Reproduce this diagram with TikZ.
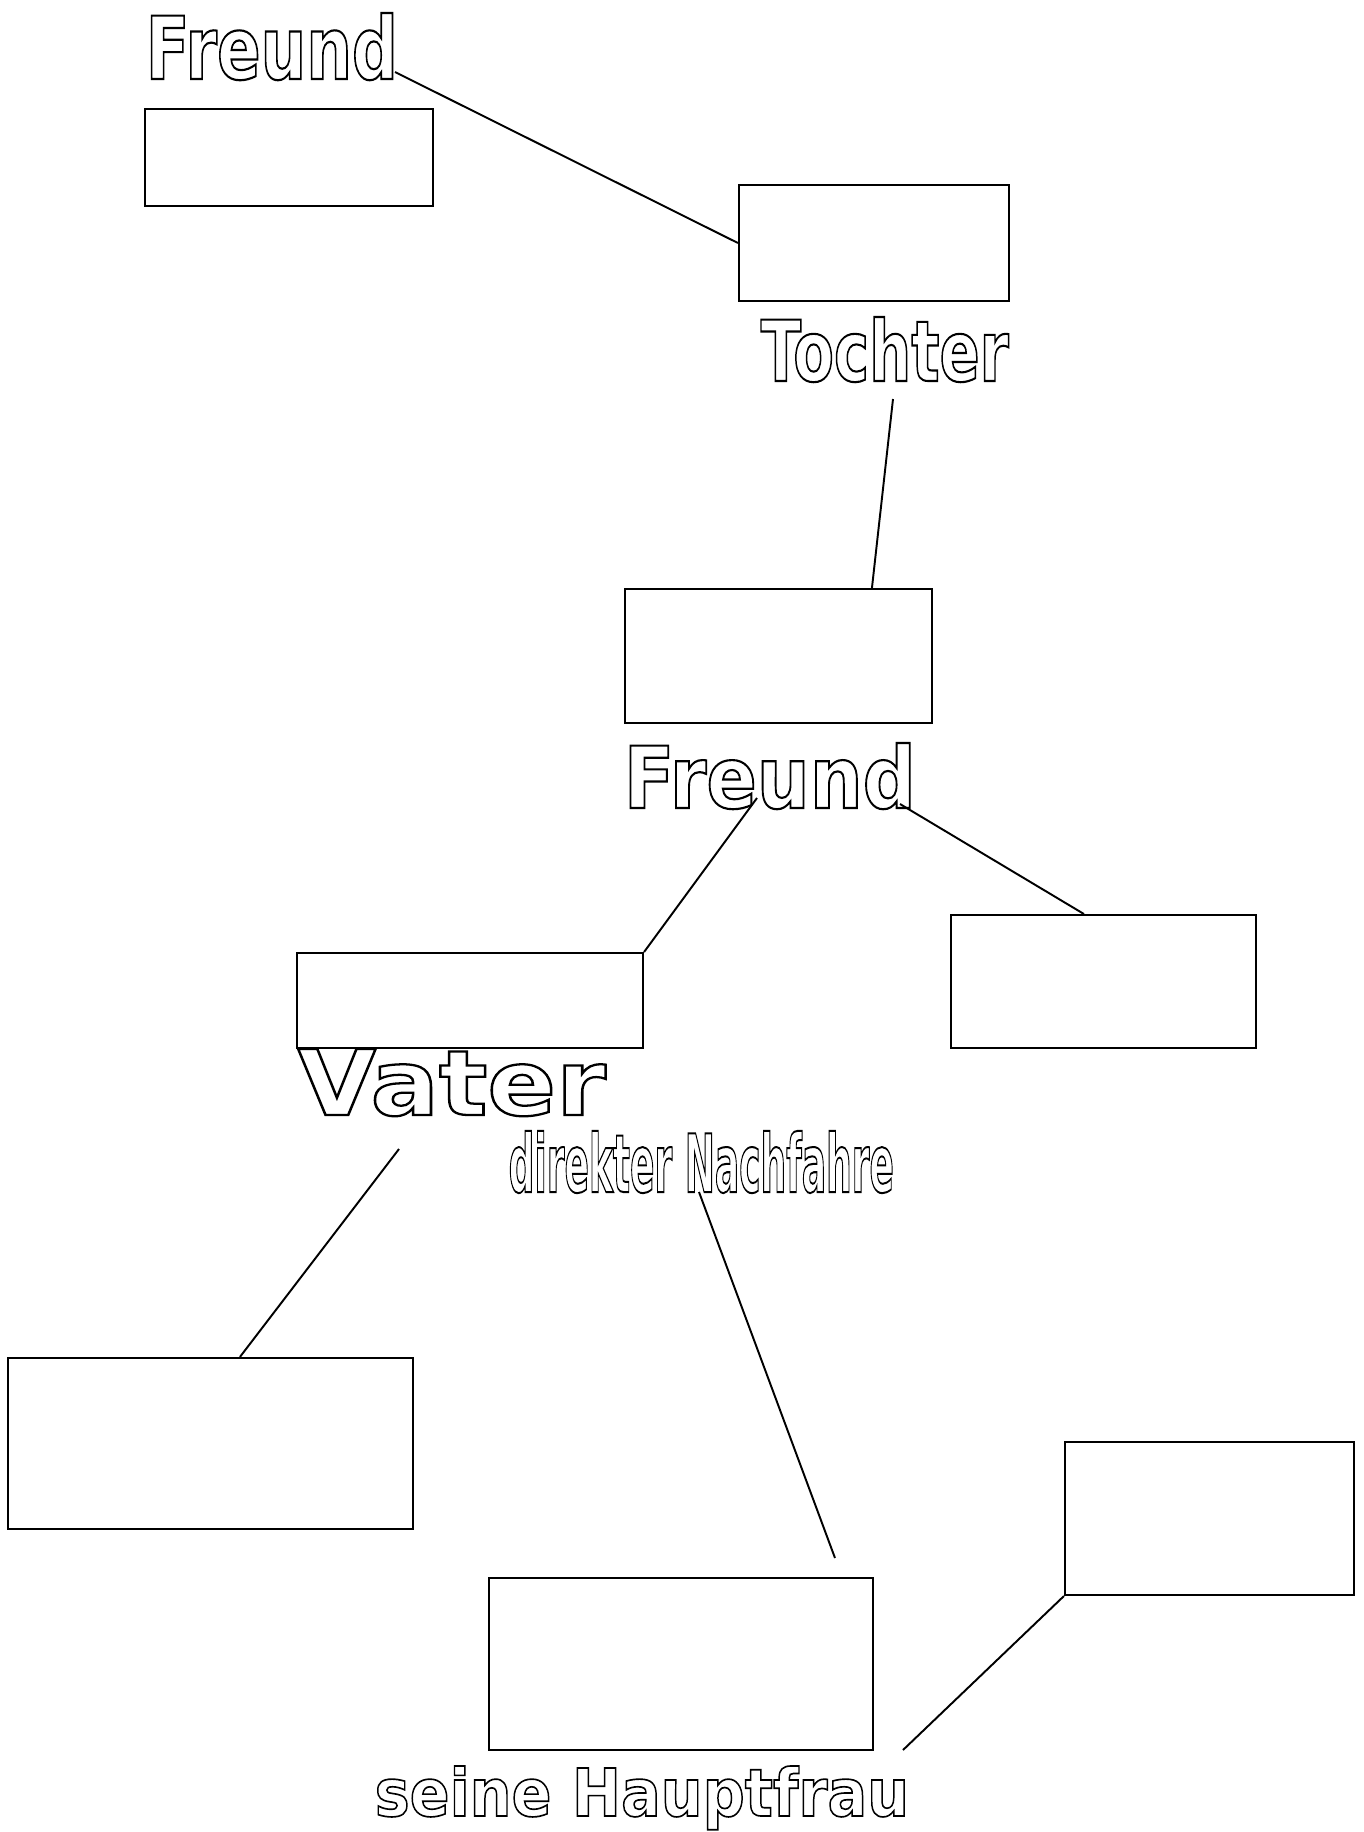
\documentclass[tikz,border=0pt]{standalone}
\usepackage{fontspec}
\setmainfont{Liberation Sans}
\newfontfamily\dickfont{DejaVu Sans}
\usepackage{graphicx}
\usetikzlibrary{positioning,calc}

% hollow (outlined) lettering
\newcommand{\hohl}[3]{\resizebox{#1}{#2}{\special{pdf:literal direct 1 Tr 0.6 w}\dickfont\bfseries\fontsize{24}{28}\selectfont #3\special{pdf:literal direct 0 Tr}}}

\begin{document}
\begin{tikzpicture}[x=0.01cm, y=-0.01cm,
        kasten/.style 2 args={rectangle, draw, line width=0.55pt, inner sep=0pt, minimum width=#1, minimum height=#2},
        wort/.style={inner sep=0pt, anchor=base west},
        line/.style={draw, line width=0.55pt}]
    \useasboundingbox (0,0) rectangle (1364,1832);

    \node [kasten={2.88cm}{0.97cm}] (b1) at (289,157.5) {};
    \node [kasten={2.70cm}{1.16cm}] (b2) at (874,243) {};
    \node [kasten={3.07cm}{1.34cm}] (b3) at (778.5,656) {};
    \node [kasten={3.46cm}{0.95cm}] (b4) at (470,1000.5) {};
    \node [kasten={3.05cm}{1.33cm}] (b5) at (1103.5,981.5) {};
    \node [kasten={4.05cm}{1.71cm}] (b6) at (210.5,1443.5) {};
    \node [kasten={3.84cm}{1.72cm}] (b7) at (681,1664) {};
    \node [kasten={2.89cm}{1.53cm}] (b8) at (1209.5,1518.5) {};

    \node [wort] (freund1) at (145,79) {\hohl{2.52cm}{0.66cm}{Freund}};
    \node [wort] (tochter) at (760,381) {\hohl{2.48cm}{0.64cm}{Tochter}};
    \node [wort] (freund2) at (623,808) {\hohl{2.92cm}{0.65cm}{Freund}};
    \node [wort] (vater) at (297,1115) {\hohl{3.08cm}{0.66cm}{Vater}};
    \node [wort] (nachfahre) at (508,1192) {\hohl{3.85cm}{0.61cm}{direkter Nachfahre}};
    \node [wort] (hauptfrau) at (374,1816) {\hohl{5.34cm}{0.50cm}{seine Hauptfrau}};

    \coordinate (f1) at (395,72);
    \coordinate (t1) at (893,399);
    \coordinate (f2a) at (757,798);
    \coordinate (f2b) at (900,804);
    \coordinate (v1) at (399,1149);
    \coordinate (n1) at (699,1192);
    \coordinate (n2) at (835,1558);
    \coordinate (h1) at (903,1750);

    \path [line] (f1) -- (b2.west);
    \path [line] (t1) -- ($(b3.north west)+(248,0)$);
    \path [line] (f2a) -- (b4.north east);
    \path [line] (f2b) -- ($(b5.north west)+(134,0)$);
    \path [line] (v1) -- ($(b6.north west)+(233,0)$);
    \path [line] (n1) -- (n2);
    \path [line] (b8.south west) -- (h1);
\end{tikzpicture}
\end{document}
